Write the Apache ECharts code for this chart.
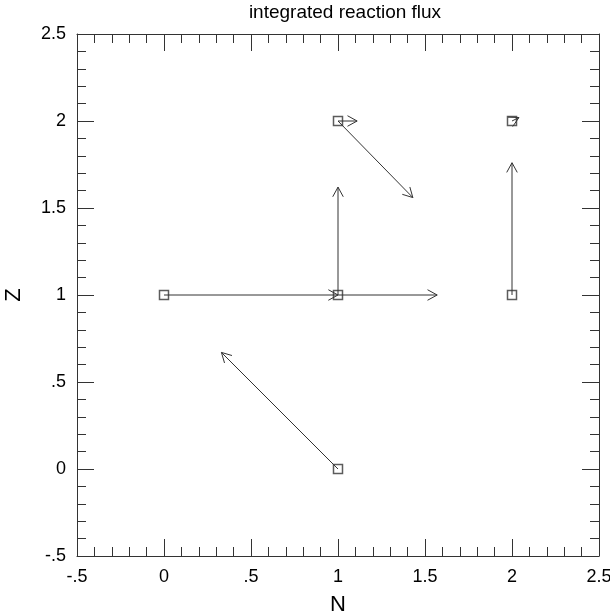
<!DOCTYPE html>
<html>
<head>
<meta charset="utf-8">
<script src="https://cdn.jsdelivr.net/npm/echarts@6/dist/echarts.min.js"></script>
<style>
    html, body { margin: 0; padding: 0; background: #fff; }
    #chart { width: 610px; height: 616px; }
</style>
</head>
<body>
<div id="chart"></div>
<script>
// nuclei (N, Z) shown as boxes
const nucleiN = [0, 1, 1, 2, 2, 1];
const nucleiZ = [1, 1, 2, 2, 1, 0];

// flux arrows: start (N, Z) -> end (N, Z)
const fromN = [0, 1, 1, 1, 1, 2, 2, 1];
const fromZ = [1, 1, 1, 2, 2, 2, 1, 0];
const toN = [1, 1.57, 1, 1.11, 1.43, 2.04, 2, 0.33];
const toZ = [1, 1, 1.62, 2, 1.56, 2.02, 1.76, 0.67];

const fmt = (v) => String(v).replace(/^(-?)0\./, "$1.");
const ink = "#333";
const font = "Liberation Sans, Helvetica, Arial, sans-serif";

function axis(pos, name) {
    const isX = pos === "bottom" || pos === "top";
    const main = pos === "bottom" || pos === "left";
    return {
        type: "value",
        position: pos,
        min: -0.5,
        max: 2.5,
        interval: 0.5,
        name: main ? name : "",
        nameLocation: "middle",
        nameGap: isX ? 38 : 52,
        nameRotate: isX ? 0 : 90,
        nameTextStyle: { color: "#000", fontFamily: font, fontSize: 22 },
        axisLine: { show: true, onZero: false, lineStyle: { color: ink, width: 1 } },
        axisTick: { show: true, inside: true, length: 17, lineStyle: { color: ink } },
        minorTick: { show: true, splitNumber: 5, length: 9, lineStyle: { color: ink } },
        splitLine: { show: false },
        axisLabel: {
            show: main,
            formatter: fmt,
            color: "#000",
            fontFamily: font,
            fontSize: 18,
            margin: isX ? 12 : 11
        }
    };
}

const chart = echarts.init(document.getElementById("chart"));
chart.setOption({
    animation: false,
    backgroundColor: "#fff",
    title: {
        text: "integrated reaction flux",
        left: 340,
        textAlign: "center",
        top: -2,
        textStyle: { color: "#000", fontFamily: font, fontSize: 19, fontWeight: "normal" }
    },
    grid: { left: 77, right: 11, top: 34, bottom: 60, containLabel: false, outerBoundsMode: "none" },
    xAxis: [axis("bottom", "N"), axis("top", "")],
    yAxis: [axis("left", "Z"), axis("right", "")],
    series: [
        {
            type: "custom",
            data: fromN.map((n, i) => [n, fromZ[i], toN[i], toZ[i]]),
            renderItem: function (params, api) {
                const p0 = api.coord([api.value(0), api.value(1)]);
                const p1 = api.coord([api.value(2), api.value(3)]);
                const a = Math.atan2(p1[1] - p0[1], p1[0] - p0[0]);
                const len = 11, spread = 0.5;
                const h1 = [p1[0] - len * Math.cos(a - spread), p1[1] - len * Math.sin(a - spread)];
                const h2 = [p1[0] - len * Math.cos(a + spread), p1[1] - len * Math.sin(a + spread)];
                const style = { stroke: ink, lineWidth: 1, fill: null };
                return {
                    type: "group",
                    children: [
                        { type: "line", shape: { x1: p0[0], y1: p0[1], x2: p1[0], y2: p1[1] }, style: style },
                        { type: "polyline", shape: { points: [h1, p1, h2] }, style: style }
                    ]
                };
            },
            silent: true,
            z: 2
        },
        {
            type: "scatter",
            data: nucleiN.map((n, i) => [n, nucleiZ[i]]),
            symbol: "rect",
            symbolSize: 9,
            itemStyle: { color: "rgba(0,0,0,0)", borderColor: ink, borderWidth: 1.5 },
            silent: true,
            z: 3
        }
    ]
});
</script>
</body>
</html>
